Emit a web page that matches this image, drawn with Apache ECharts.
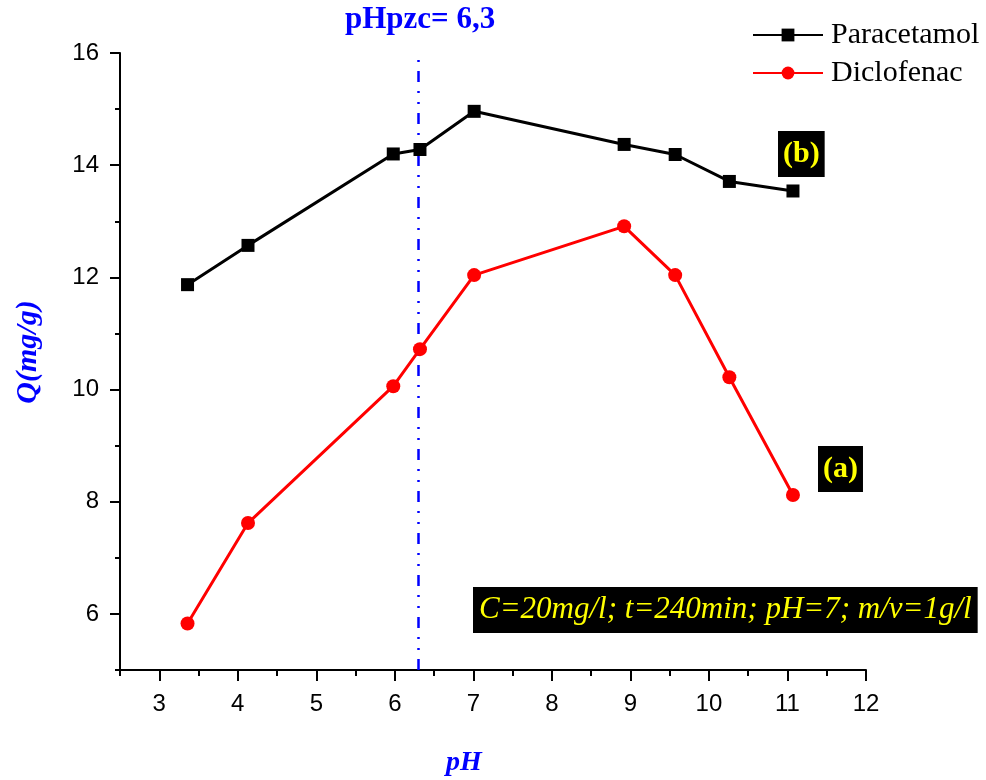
<!DOCTYPE html>
<html>
<head>
<meta charset="utf-8">
<style>
  html, body { margin: 0; padding: 0; background: #ffffff; }
  #chart { width: 986px; height: 780px; }
</style>
<script src="https://cdn.jsdelivr.net/npm/echarts@6/dist/echarts.min.js"></script>
</head>
<body>
<div id="chart"></div>
<script>
// pH of each adsorption run
const PH_PARACETAMOL = [3.36, 4.13, 5.98, 6.32, 7.01, 8.92, 9.57, 10.26, 11.07];
const PH_DICLOFENAC = [3.36, 4.13, 5.98, 6.32, 7.01, 8.92, 9.57, 10.26, 11.07];
// adsorbed quantity Q (mg/g)
const Q_PARACETAMOL = [11.87, 12.57, 14.20, 14.28, 14.96, 14.37, 14.19, 13.71, 13.54];
const Q_DICLOFENAC = [5.83, 7.62, 10.06, 10.72, 12.04, 12.91, 12.04, 10.22, 8.12];
// point of zero charge
const PHPZC = 6.3;

// axis ticks
const X_MAJOR = [3, 4, 5, 6, 7, 8, 9, 10, 11, 12];
const X_MINOR = [2.5, 3.5, 4.5, 5.5, 6.5, 7.5, 8.5, 9.5, 10.5, 11.5];
const Y_MAJOR = [6, 8, 10, 12, 14, 16];
const Y_MINOR = [5, 7, 9, 11, 13, 15];

const SERIF = '"Liberation Serif", "Times New Roman", serif';
const SANS = '"Liberation Sans", Arial, sans-serif';

const zip = (xs, ys) => xs.map((x, i) => [x, ys[i]]);

const chart = echarts.init(document.getElementById('chart'));

const axisLine = { show: true, onZero: false, lineStyle: { color: '#000', width: 2 } };

chart.setOption({
  animation: false,
  backgroundColor: '#ffffff',
  grid: { left: 120, right: 120, top: 53, bottom: 110, containLabel: false },
  legend: {
    orient: 'vertical',
    left: 747,
    top: 11,
    itemWidth: 70,
    itemHeight: 16,
    itemGap: 0,
    textStyle: { fontFamily: SERIF, fontSize: 30, color: '#000', lineHeight: 38, padding: [0, 0, 0, 3] },
    data: ['Paracetamol', 'Diclofenac']
  },
  xAxis: [
    {
      type: 'value', min: 2.5, max: 12, position: 'bottom',
      axisLine: axisLine,
      splitLine: { show: false },
      axisTick: { show: true, inside: false, length: 11, customValues: X_MAJOR, lineStyle: { color: '#000', width: 2 } },
      axisLabel: { customValues: X_MAJOR, margin: 22, fontFamily: SANS, fontSize: 24, color: '#000' }
    },
    {
      type: 'value', min: 2.5, max: 12, position: 'bottom',
      axisLine: { show: false },
      splitLine: { show: false },
      axisTick: { show: true, inside: false, length: 6, customValues: X_MINOR, lineStyle: { color: '#000', width: 2 } },
      axisLabel: { show: false }
    }
  ],
  yAxis: [
    {
      type: 'value', min: 5, max: 16, position: 'left',
      axisLine: axisLine,
      splitLine: { show: false },
      axisTick: { show: true, inside: false, length: 10, customValues: Y_MAJOR, lineStyle: { color: '#000', width: 2 } },
      axisLabel: { customValues: Y_MAJOR, margin: 21, fontFamily: SANS, fontSize: 24, color: '#000' }
    },
    {
      type: 'value', min: 5, max: 16, position: 'left',
      axisLine: { show: false },
      splitLine: { show: false },
      axisTick: { show: true, inside: false, length: 5, customValues: Y_MINOR, lineStyle: { color: '#000', width: 2 } },
      axisLabel: { show: false }
    }
  ],
  series: [
    {
      name: 'Paracetamol',
      type: 'line',
      data: zip(PH_PARACETAMOL, Q_PARACETAMOL),
      symbol: 'rect',
      symbolSize: 13,
      z: 5,
      lineStyle: { color: '#000', width: 3 },
      itemStyle: { color: '#000' },
      markLine: {
        silent: true,
        symbol: 'none',
        z: 1,
        label: { show: false },
        lineStyle: { color: '#0000ff', width: 2.5, type: [11, 9, 2, 9, 2, 9] },
        data: [{ xAxis: PHPZC }]
      }
    },
    {
      name: 'Diclofenac',
      type: 'line',
      data: zip(PH_DICLOFENAC, Q_DICLOFENAC),
      symbol: 'circle',
      symbolSize: 14,
      z: 5,
      lineStyle: { color: '#ff0000', width: 3 },
      itemStyle: { color: '#ff0000' }
    }
  ],
  graphic: [
    {
      type: 'text', left: 345, top: 4,
      style: { text: 'pHpzc= 6,3', font: 'bold 31px ' + SERIF, fill: '#0000ff' }
    },
    {
      type: 'text', x: 28, y: 352, rotation: Math.PI / 2,
      style: { text: 'Q(mg/g)', font: 'italic bold 30px ' + SERIF, fill: '#0000ff', align: 'center', verticalAlign: 'middle' }
    },
    {
      type: 'text', x: 464, y: 763,
      style: { text: 'pH', font: 'italic bold 28px ' + SERIF, fill: '#0000ff', align: 'center', verticalAlign: 'middle' }
    },
    {
      type: 'text', left: 778, top: 131,
      style: { text: '(b)', font: 'bold 30px ' + SERIF, fill: '#ffff00', backgroundColor: '#000', padding: [5, 5], lineHeight: 36 }
    },
    {
      type: 'text', left: 818, top: 446,
      style: { text: '(a)', font: 'bold 30px ' + SERIF, fill: '#ffff00', backgroundColor: '#000', padding: [5, 5], lineHeight: 36 }
    },
    {
      type: 'text', left: 473, top: 587,
      style: { text: 'C=20mg/l; t=240min; pH=7; m/v=1g/l', font: 'italic 31px ' + SERIF, fill: '#ffff00', backgroundColor: '#000', padding: [5, 6], lineHeight: 36 }
    }
  ]
});
</script>
</body>
</html>
